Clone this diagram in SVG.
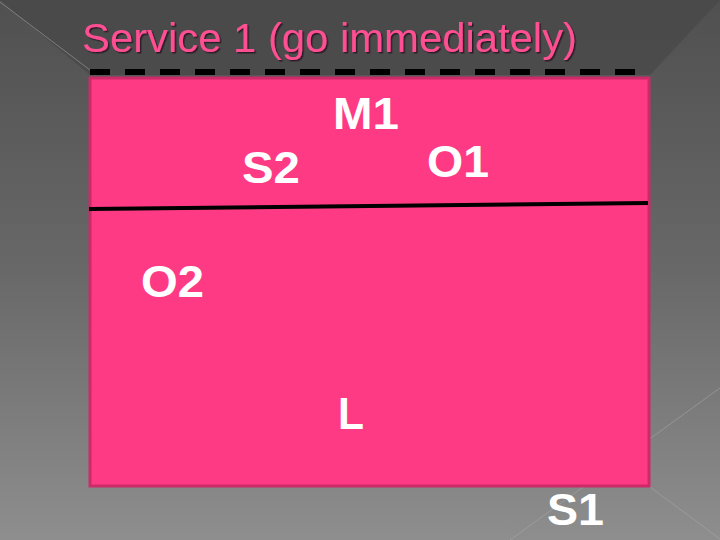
<svg xmlns="http://www.w3.org/2000/svg" width="720" height="540" viewBox="0 0 720 540">
<defs>
<linearGradient id="bg" x1="0" y1="0" x2="0" y2="1">
<stop offset="0" stop-color="#505050"/>
<stop offset="0.5" stop-color="#686868"/>
<stop offset="1" stop-color="#8e8e8e"/>
</linearGradient>
<filter id="shadow" x="-5%" y="-20%" width="110%" height="140%">
<feDropShadow dx="1.5" dy="1.5" stdDeviation="0.6" flood-color="#2a1420" flood-opacity="0.9"/>
</filter>
</defs>
<style>
.lbl{font-family:"Liberation Sans",Arial,sans-serif;font-weight:bold;font-size:44px;fill:#ffffff}
.title{font-family:"Liberation Sans",Arial,sans-serif;font-size:41px;fill:#ff4f93}
.edge{stroke:#a8a8a8;stroke-width:1;opacity:0.55}
</style>
<rect x="0" y="0" width="720" height="540" fill="url(#bg)"/>
<polygon points="0,0 720,0 650,75 90,75" fill="#474747" opacity="0.7"/>
<line class="edge" x1="0" y1="2" x2="90" y2="70"/>
<line class="edge" x1="510" y1="540" x2="720" y2="388"/>
<line class="edge" x1="650" y1="487" x2="720" y2="539"/>
<g id="title">
<text class="title" x="82" y="52" textLength="495" lengthAdjust="spacingAndGlyphs" filter="url(#shadow)">Service 1 (go immediately)</text>
</g>
<g id="box">
<rect x="90" y="78" width="559" height="408" fill="#ff3a85" stroke="#cc2a68" stroke-width="3"/>
</g>
<g id="connectors">
<line x1="90" y1="72" x2="635" y2="72" stroke="#000" stroke-width="6" stroke-dasharray="20 15"/>
<line x1="89" y1="209" x2="648" y2="203" stroke="#000" stroke-width="4"/>
</g>
<g id="M1"><text class="lbl" x="333" y="129" textLength="66" lengthAdjust="spacingAndGlyphs">M1</text></g>
<g id="S2"><text class="lbl" x="242" y="183" textLength="58" lengthAdjust="spacingAndGlyphs">S2</text></g>
<g id="O1"><text class="lbl" x="427" y="177" textLength="62" lengthAdjust="spacingAndGlyphs">O1</text></g>
<g id="O2"><text class="lbl" x="141" y="297" textLength="63" lengthAdjust="spacingAndGlyphs">O2</text></g>
<g id="L"><text class="lbl" x="338" y="429" textLength="26" lengthAdjust="spacingAndGlyphs">L</text></g>
<g id="S1"><text class="lbl" x="547" y="525" textLength="57" lengthAdjust="spacingAndGlyphs">S1</text></g>
</svg>
